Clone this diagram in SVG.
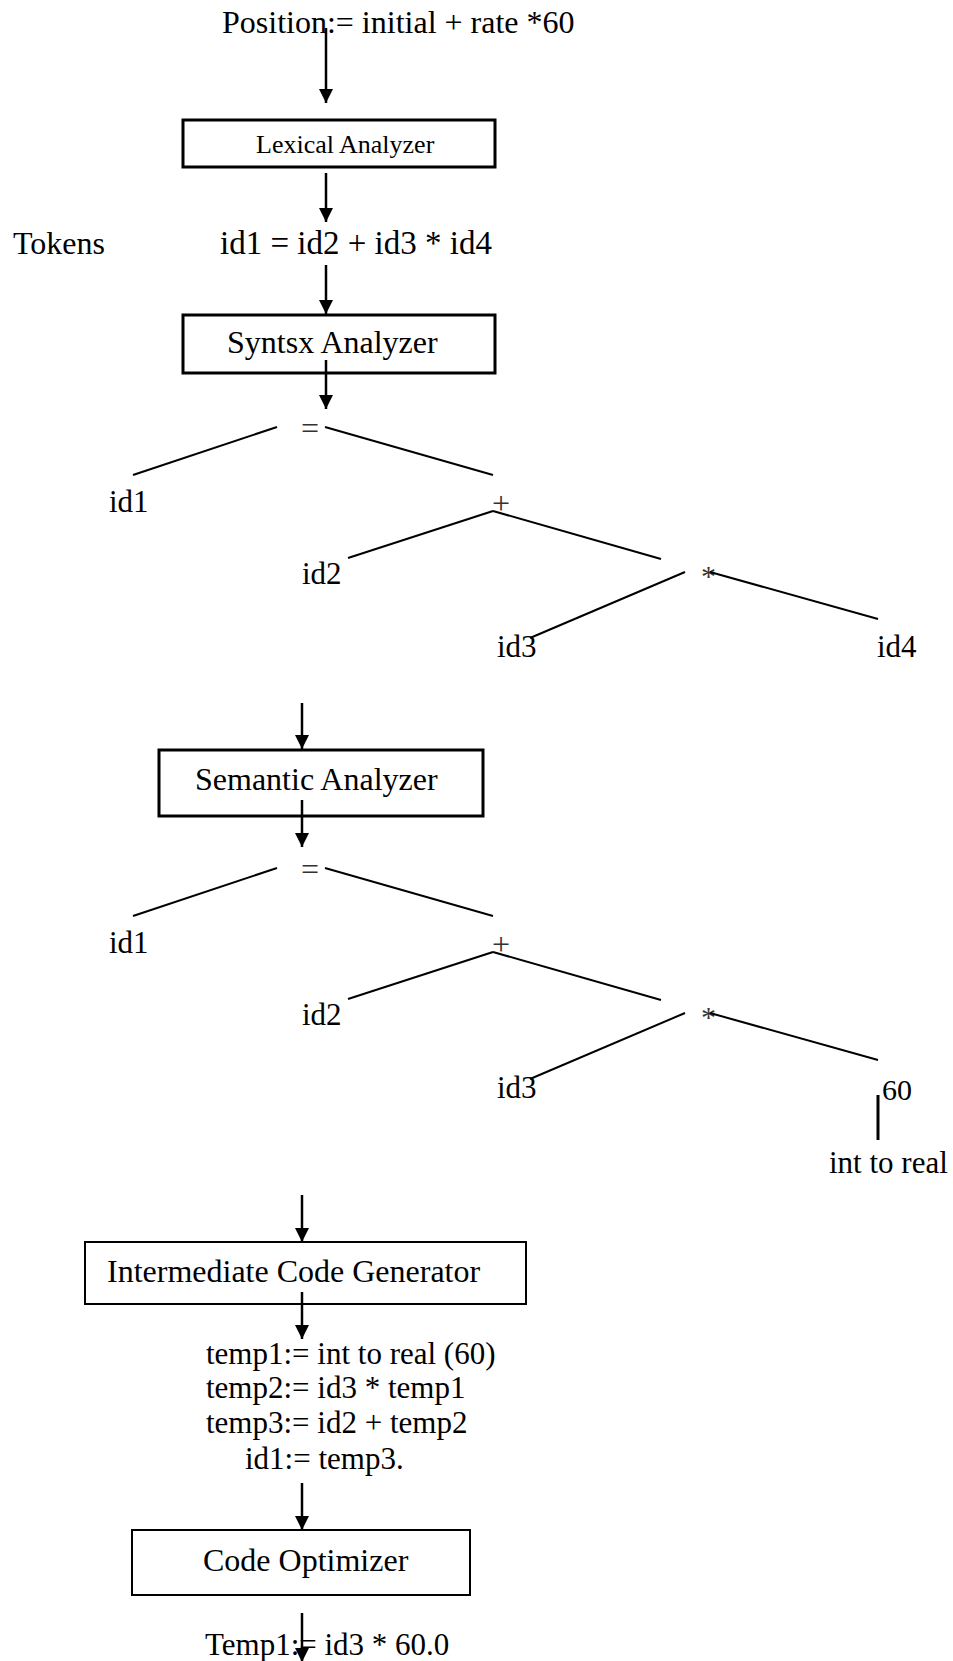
<svg xmlns="http://www.w3.org/2000/svg" width="953" height="1661" viewBox="0 0 953 1661">
<defs>
<marker id="ah" viewBox="0 0 10 10" markerWidth="15" markerHeight="14" refX="10" refY="5" orient="auto" markerUnits="userSpaceOnUse">
<path d="M0,0 L10,5 L0,10 Z" fill="#000"/>
</marker>
<style>
text{font-family:"Liberation Serif","Times New Roman",serif;fill:#000;font-size:32px}
.lex{font-size:26px}
.code{font-size:31px}
.lbl{font-size:31px}
.op{font-size:32px;fill:#333}
.box{fill:#fff;stroke:#000;stroke-width:3}
.thin{stroke-width:2}
.arrow{stroke:#000;stroke-width:2.5;fill:none;marker-end:url(#ah)}
.edge{stroke:#000;stroke-width:2;fill:none}
</style>
</defs>
<rect width="953" height="1661" fill="#fff"/>

<g id="source"><text x="222" y="33">Position:= initial + rate *60</text></g>

<g id="lexical"><rect class="box" x="183" y="120" width="312" height="47"/><text class="lex" x="256" y="153">Lexical Analyzer</text></g>

<g id="tokens-label"><text x="13" y="254">Tokens</text></g>
<g id="tokens"><text x="220" y="254" style="font-size:33px">id1 = id2 + id3 * id4</text></g>

<g id="syntax"><rect class="box" x="183" y="315" width="312" height="58"/><text x="227" y="353">Syntsx Analyzer</text></g>

<g id="tree1">
<text class="op" x="301" y="439">=</text>
<text class="lbl" x="109" y="512">id1</text>
<text class="op" x="492" y="514">+</text>
<text class="lbl" x="302" y="584">id2</text>
<text class="op" x="701" y="586" style="font-size:30px">*</text>
<text class="lbl" x="497" y="657">id3</text>
<text class="lbl" x="877" y="657">id4</text>
</g>

<g id="semantic"><rect class="box" x="159" y="750" width="324" height="66"/><text x="195" y="790">Semantic Analyzer</text></g>

<g id="tree2">
<text class="op" x="301" y="880">=</text>
<text class="lbl" x="109" y="953">id1</text>
<text class="op" x="492" y="955">+</text>
<text class="lbl" x="302" y="1025">id2</text>
<text class="op" x="701" y="1027" style="font-size:30px">*</text>
<text class="lbl" x="497" y="1098">id3</text>
<text class="lbl" x="882" y="1100" style="font-size:30px">60</text>
<text class="lbl" x="829" y="1173">int to real</text>
</g>

<g id="icg"><rect class="box thin" x="85" y="1242" width="441" height="62"/><text x="107" y="1282">Intermediate Code Generator</text></g>

<g id="icg-code">
<text class="code" x="206" y="1364">temp1:= int to real (60)</text>
<text class="code" x="206" y="1398">temp2:= id3 * temp1</text>
<text class="code" x="206" y="1433">temp3:= id2 + temp2</text>
<text class="code" x="245" y="1469">id1:= temp3.</text>
</g>

<g id="optimizer"><rect class="box thin" x="132" y="1530" width="338" height="65"/><text x="203" y="1571">Code Optimizer</text></g>

<g id="opt-code"><text class="code" x="205" y="1655">Temp1:= id3 * 60.0</text></g>

<g id="connectors">
<line class="arrow" x1="326" y1="28" x2="326" y2="103"/>
<line class="arrow" x1="326" y1="173" x2="326" y2="222"/>
<line class="arrow" x1="326" y1="265" x2="326" y2="314"/>
<line class="arrow" x1="326" y1="360" x2="326" y2="409"/>
<line class="edge" x1="133" y1="475" x2="277" y2="427"/>
<line class="edge" x1="325" y1="427" x2="493" y2="475"/>
<line class="edge" x1="493" y1="511" x2="348" y2="558"/>
<line class="edge" x1="493" y1="511" x2="661" y2="559"/>
<line class="edge" x1="685" y1="572" x2="530" y2="638"/>
<line class="edge" x1="710" y1="572" x2="878" y2="619"/>
<line class="arrow" x1="302" y1="703" x2="302" y2="749"/>
<line class="arrow" x1="302" y1="800" x2="302" y2="847"/>
<line class="edge" x1="133" y1="916" x2="277" y2="868"/>
<line class="edge" x1="325" y1="868" x2="493" y2="916"/>
<line class="edge" x1="493" y1="952" x2="348" y2="999"/>
<line class="edge" x1="493" y1="952" x2="661" y2="1000"/>
<line class="edge" x1="685" y1="1013" x2="530" y2="1079"/>
<line class="edge" x1="710" y1="1013" x2="878" y2="1060"/>
<line x1="878" y1="1095" x2="878" y2="1140" stroke="#000" stroke-width="3"/>
<line class="arrow" x1="302" y1="1195" x2="302" y2="1242"/>
<line class="arrow" x1="302" y1="1292" x2="302" y2="1339"/>
<line class="arrow" x1="302" y1="1483" x2="302" y2="1530"/>
<line class="arrow" x1="302" y1="1613" x2="302" y2="1662"/>
</g>
</svg>
